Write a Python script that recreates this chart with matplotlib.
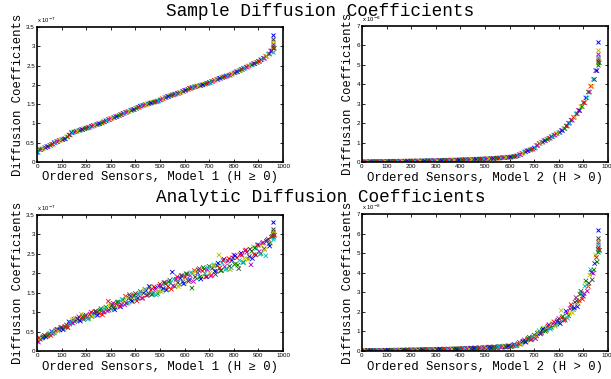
import matplotlib
matplotlib.use("Agg")
import matplotlib.pyplot as plt
import numpy as np

# ordered sensor index (every 10th sensor)
sensors = np.arange(0, 961, 10)

# Model 1, sample coefficients (x 1e-7)
model1_sample = [0.25, 0.32, 0.34, 0.37, 0.40, 0.43, 0.46, 0.50, 0.53, 0.56,
                 0.58, 0.60, 0.65, 0.70, 0.76, 0.78, 0.80, 0.82, 0.84, 0.86,
                 0.88, 0.90, 0.93, 0.95, 0.97, 0.99, 1.01, 1.04, 1.07, 1.10,
                 1.13, 1.15, 1.18, 1.20, 1.23, 1.26, 1.29, 1.31, 1.34, 1.36,
                 1.39, 1.42, 1.45, 1.47, 1.49, 1.51, 1.53, 1.55, 1.56, 1.58,
                 1.61, 1.64, 1.67, 1.70, 1.72, 1.74, 1.76, 1.78, 1.80, 1.83,
                 1.86, 1.88, 1.91, 1.93, 1.95, 1.97, 1.98, 2.00, 2.02, 2.04,
                 2.06, 2.09, 2.12, 2.14, 2.17, 2.19, 2.21, 2.23, 2.25, 2.28,
                 2.31, 2.34, 2.37, 2.40, 2.43, 2.46, 2.49, 2.52, 2.55, 2.58,
                 2.61, 2.65, 2.69, 2.74, 2.80, 2.88, 2.95]

# Model 2, sample coefficients (x 1e-8)
model2_sample = [0.010, 0.015, 0.020, 0.020, 0.020, 0.020, 0.025, 0.025, 0.030, 0.030,
                 0.030, 0.030, 0.035, 0.035, 0.040, 0.040, 0.040, 0.045, 0.045, 0.050,
                 0.050, 0.050, 0.055, 0.055, 0.060, 0.060, 0.065, 0.065, 0.070, 0.070,
                 0.075, 0.080, 0.080, 0.085, 0.090, 0.090, 0.095, 0.100, 0.100, 0.105,
                 0.110, 0.115, 0.120, 0.125, 0.130, 0.135, 0.140, 0.145, 0.150, 0.155,
                 0.160, 0.170, 0.175, 0.180, 0.190, 0.200, 0.210, 0.220, 0.230, 0.240,
                 0.250, 0.270, 0.290, 0.320, 0.380, 0.450, 0.520, 0.580, 0.620, 0.660,
                 0.720, 0.850, 0.950, 1.020, 1.100, 1.160, 1.220, 1.300, 1.380, 1.450,
                 1.520, 1.620, 1.720, 1.850, 2.000, 2.150, 2.300, 2.480, 2.650, 2.850,
                 3.050, 3.300, 3.600, 3.900, 4.250, 4.700, 5.100]

# last sensor value for each of the 7 runs
model1_top = [3.30, 3.00, 2.95, 2.85, 3.05, 3.15, 3.20]
model2_top = [6.20, 5.00, 5.30, 5.40, 5.55, 5.75, 5.20]
model1_top_an = [3.32, 3.00, 2.95, 2.88, 3.05, 3.10, 3.15]
model2_top_an = [6.20, 5.05, 5.30, 5.45, 5.55, 5.60, 5.75]

# analytic minus sample, three runs (hundredths of the axis unit)
model1_dev_a = [0, 2, -1, 3, -2, 1, 4, -3, 2, -1,
                3, -4, 2, 5, -3, 4, -2, 6, 11, -5,
                4, -6, 7, -3, 5, -7, 8, -4, 6, 18,
                -5, 8, -7, 6, -9, 5, 12, -8, 7, -10,
                9, -6, 8, -11, 10, -7, 12, -9, 6, -10,
                11, -8, 9, -12, 10, 29, -10, 13, -9, 11,
                -12, 10, -8, -31, 12, -11, 14, -10, 9, -13,
                12, -14, 10, -9, 30, -12, 15, -11, 13, -14,
                16, -10, -25, 12, -15, 14, -12, -30, 13, -11,
                12, -14, 10, -29, 8, -10, 5]
model1_dev_b = [-2, 1, 3, -1, 2, -3, 1, 3, -2, 4,
                -3, 2, -5, 3, -4, 6, 2, -5, 4, 3,
                -6, 5, -3, 7, -5, 6, -8, 5, -4, 7,
                6, -9, 8, -5, 10, -7, 9, 14, -6, 8,
                -10, 7, -9, 11, -6, 15, -8, 10, -12, 9,
                -9, 12, -10, 8, -13, 11, 9, -12, 14, -10,
                13, -9, 11, -14, 10, 12, -13, 15, -11, 10,
                -13, 11, -15, 12, -10, 14, -12, 9, -16, 12,
                14, -13, 11, -12, 15, -10, 13, -14, 10, 15,
                -12, 13, -9, 11, -10, 7, 3]
model1_dev_c = [1, -2, 0, 2, -1, 3, -2, 0, 3, -2,
                1, 3, -2, -1, 4, -2, 3, -3, 1, 5,
                -2, 3, -4, 1, 3, -2, 4, -3, 2, -5,
                3, -4, 2, 5, -3, 2, -6, 4, -2, 5,
                -4, 3, -5, 2, 6, -3, 4, -6, 3, -4,
                5, -3, 6, -4, 3, -6, 5, -2, 7, -5,
                4, -6, 3, 7, -5, 4, -7, 6, -3, 5,
                -6, 4, -7, 5, -3, 8, -4, 6, -7, 5,
                -8, 6, -4, 7, -5, 8, -6, 5, -7, 6,
                -5, 7, -6, 8, -4, 5, -3]
model2_dev_a = [0, 1, 0, -1, 1, 0, 1, -1, 0, 1,
                0, -1, 1, 0, 1, -1, 0, 1, -1, 0,
                1, 0, -1, 1, 0, 1, -1, 0, 1, -1,
                1, -1, 2, 0, -1, 1, -2, 1, 0, 2,
                -1, 2, -2, 1, 2, -1, 2, -2, 1, -2,
                2, -2, 3, -2, 2, -3, 3, -2, 3, -3,
                3, -3, 4, -5, 6, -6, 5, -7, 8, -6,
                10, -8, 9, -10, 8, -9, 12, -10, 11, -12,
                14, 45, -15, 18, -20, 22, -18, 25, -22, 20,
                -25, 28, -30, 25, -28, 20, 10]
model2_dev_b = [1, 0, -1, 0, 1, -1, 0, 1, 0, -1,
                1, 0, -1, 1, 0, 0, 1, -1, 0, 1,
                -1, 1, 0, -1, 1, 0, 1, -1, 0, 1,
                -1, 1, 0, 2, -1, -1, 1, 0, -2, 1,
                2, -1, 1, -2, 2, 1, -2, 2, -1, 2,
                -2, 3, -2, 2, -3, 3, -2, 3, -3, 2,
                -3, 4, -3, 5, -4, 6, -7, 6, -5, 8,
                -9, 10, -8, 11, -9, 12, -10, 9, -12, 13,
                -12, 15, -14, -18, 16, -20, 19, -22, 24, -20,
                26, -24, 28, -26, 22, -15, 5]
model2_dev_c = [0, 0, 1, 0, -1, 0, 0, 1, -1, 0,
                0, 1, 0, -1, 0, 1, 0, 0, 1, -1,
                0, 1, 0, 0, -1, 1, 0, 1, -1, 0,
                1, 0, -1, 1, 0, -1, 1, 0, 1, -1,
                0, 1, -1, 1, 0, -1, 1, 1, -1, 0,
                1, -1, 1, 0, -1, 2, -1, 1, -2, 1,
                -2, 2, -2, 3, -3, 2, -4, 3, -2, 4,
                -5, 6, -4, 5, -7, 6, -5, 7, -6, 5,
                -7, 8, -6, 9, -8, 7, -10, 9, -8, 10,
                -12, 10, -14, 12, -10, 8, 4]

# old matlab line colours
run_colors = [(0, 0, 1), (0, 0.5, 0), (1, 0, 0), (0, 0.75, 0.75),
              (0.75, 0, 0.75), (0.75, 0.75, 0), (0.25, 0.25, 0.25)]

mono = ['Liberation Mono', 'DejaVu Sans Mono']
sans = ['Liberation Sans', 'DejaVu Sans']

fig = plt.figure(figsize=(6.11, 3.79), dpi=100)
W, H = 611.0, 379.0


def make_axes(x0, y_top, y_bot):
    return fig.add_axes([x0 / W, 1 - y_bot / H, 246 / W, (y_bot - y_top) / H])


def style(ax, ymax, ystep, expo, model_label, ylab_x, xlab_y):
    ax.set_xlim(0, 1000)
    ax.set_ylim(0, ymax)
    ax.set_xticks(np.arange(0, 1001, 100))
    yt = np.arange(0, ymax + 1e-9, ystep)
    ax.set_yticks(yt)
    ax.set_yticklabels(['%g' % v for v in yt])
    ax.tick_params(direction='in', length=2.5, width=0.6, top=True, right=True,
                   labelsize=4.5, pad=1.5)
    for lab in ax.get_xticklabels() + ax.get_yticklabels():
        lab.set_family(sans)
    for s in ax.spines.values():
        s.set_linewidth(1.2)
    ax.text(0, 1.015, 'x 10$^{%d}$' % expo, transform=ax.transAxes,
            fontsize=4.2, family=sans, va='bottom', ha='left')
    ax.set_xlabel(model_label, family=mono, fontsize=8.8)
    ax.xaxis.set_label_coords(0.5, xlab_y)
    ax.set_ylabel('Diffusion Coefficients', family=mono, fontsize=8.8)
    ax.yaxis.set_label_coords(ylab_x, 0.5)


def draw_runs(ax, xs, ys, shift):
    cols = [run_colors[(i + shift) % 7] for i in range(len(xs))]
    ax.scatter(xs, ys, marker='x', s=10, linewidths=0.6, c=cols, zorder=2)


def draw_tops(ax, tops):
    for k, v in enumerate(tops):
        ax.scatter([960], [v], marker='x', s=8, linewidths=0.7,
                   color=run_colors[k], zorder=3)


lab1 = 'Ordered Sensors, Model 1 (H \u2265 0)'
lab2 = 'Ordered Sensors, Model 2 (H > 0)'

ax1 = make_axes(37, 27, 162)
draw_runs(ax1, sensors, model1_sample, 0)
draw_runs(ax1, sensors + 5, model1_sample, 3)
draw_tops(ax1, model1_top)
style(ax1, 3.5, 0.5, -7, lab1, -0.052, -0.07)

ax2 = make_axes(362, 26, 162)
draw_runs(ax2, sensors, model2_sample, 0)
draw_runs(ax2, sensors + 5, model2_sample, 3)
draw_tops(ax2, model2_top)
style(ax2, 7, 1, -8, lab2, -0.033, -0.07)

m1 = np.array(model1_sample)
m2 = np.array(model2_sample)

ax3 = make_axes(37, 215, 351)
draw_runs(ax3, sensors, m1 + np.array(model1_dev_a) / 100.0, 1)
draw_runs(ax3, sensors + 3, m1 + np.array(model1_dev_c) / 100.0, 5)
draw_runs(ax3, sensors + 6, m1 + np.array(model1_dev_b) / 100.0, 4)
draw_tops(ax3, model1_top_an)
style(ax3, 3.5, 0.5, -7, lab1, -0.052, -0.075)

ax4 = make_axes(362, 214, 351)
draw_runs(ax4, sensors, np.maximum(m2 + np.array(model2_dev_a) / 100.0, 0.005), 1)
draw_runs(ax4, sensors + 3, np.maximum(m2 + np.array(model2_dev_c) / 100.0, 0.005), 5)
draw_runs(ax4, sensors + 6, np.maximum(m2 + np.array(model2_dev_b) / 100.0, 0.005), 4)
draw_tops(ax4, model2_top_an)
style(ax4, 7, 1, -8, lab2, -0.033, -0.075)

fig.text(320 / W, 1 - 12 / H, 'Sample Diffusion Coefficients', family=mono,
         fontsize=12.8, ha='center', va='center')
fig.text(321 / W, 1 - 197 / H, 'Analytic Diffusion Coefficients', family=mono,
         fontsize=12.8, ha='center', va='center')

fig.savefig('out.png', dpi=100)
